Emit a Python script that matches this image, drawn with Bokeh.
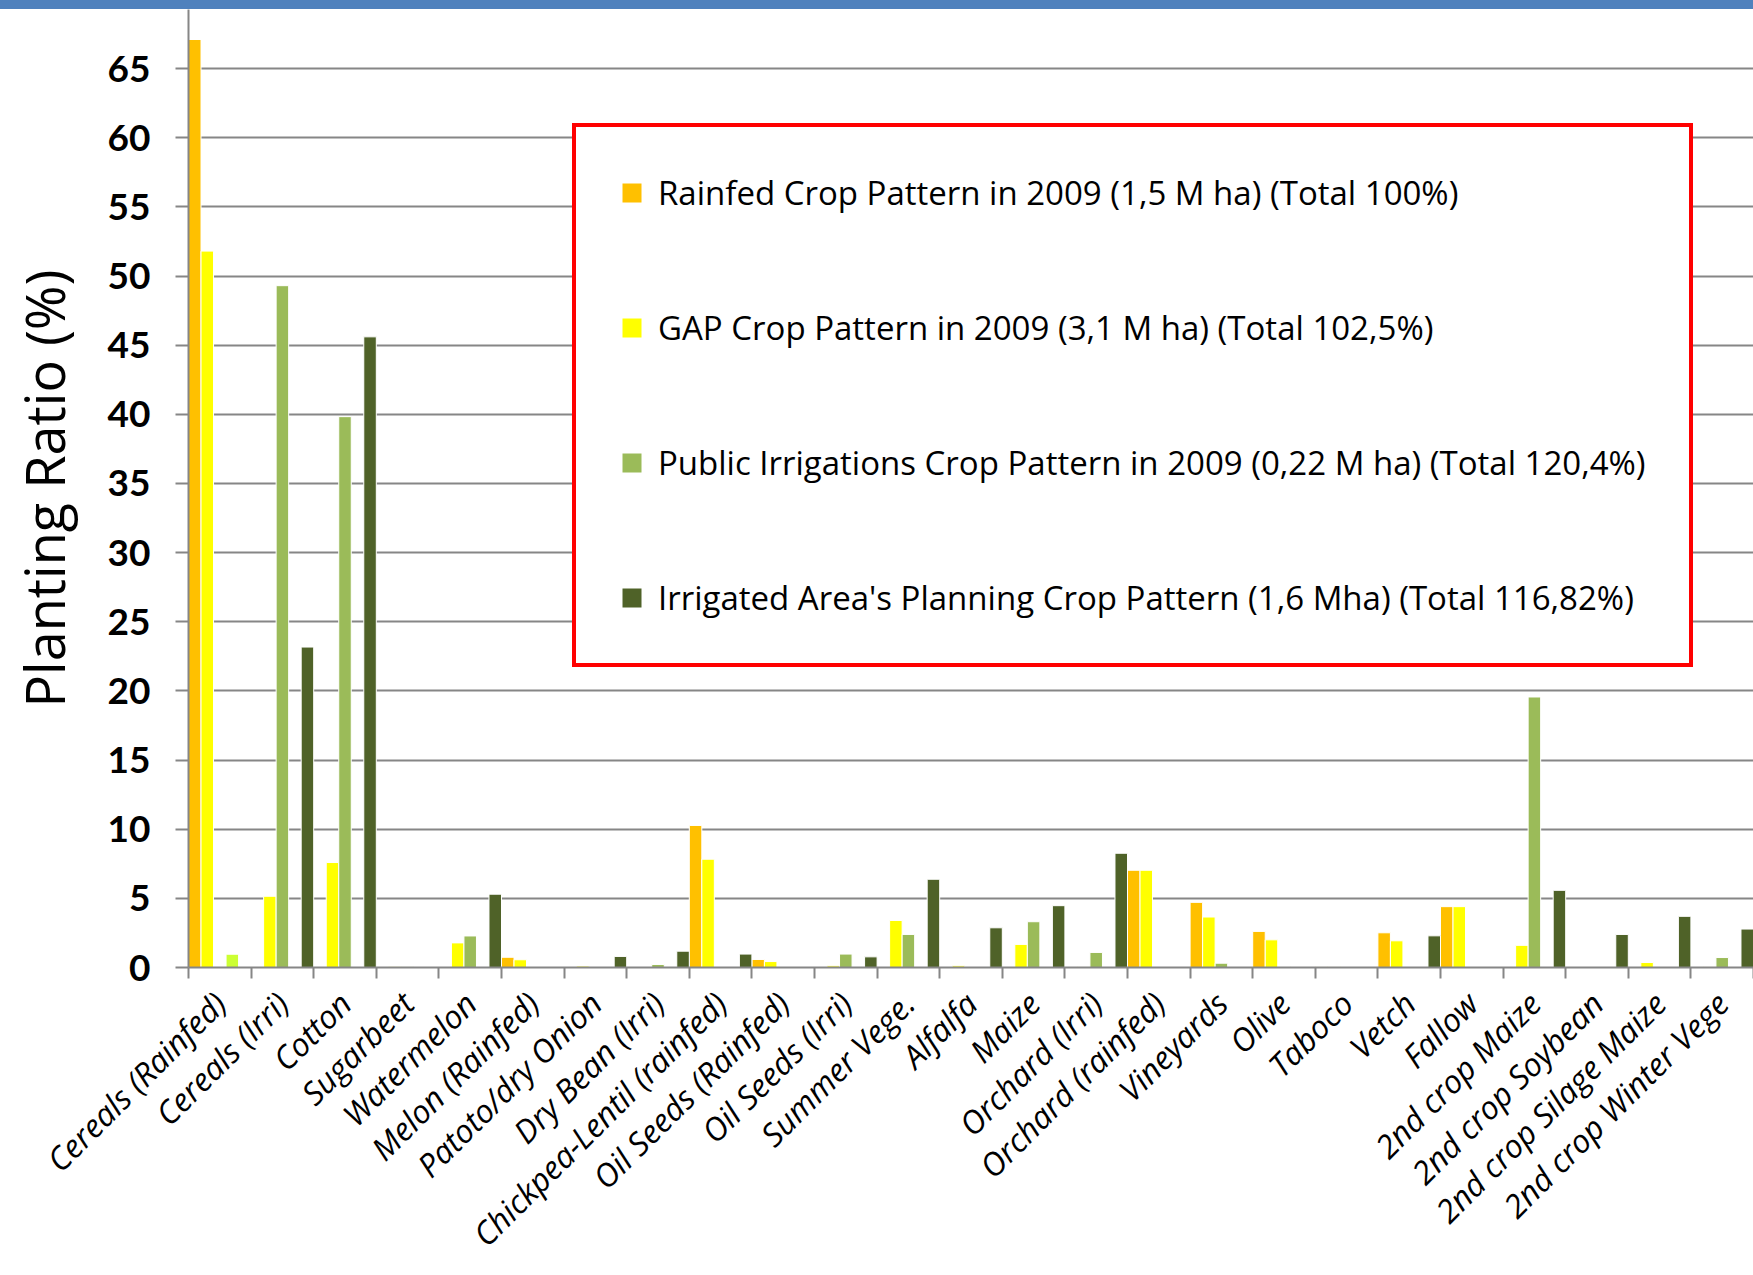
import math
from bokeh.plotting import figure
from bokeh.layouts import column
from bokeh.models import (FactorRange, Range1d, LinearAxis, CategoricalAxis, FixedTicker,
                          SingleIntervalTicker, Legend, LegendItem, ColumnDataSource, Div)
from bokeh.transform import dodge
from bokeh.embed import file_html
from bokeh.resources import INLINE

categories = ["Cereals (Rainfed)", "Cereals (Irri)", "Cotton", "Sugarbeet", "Watermelon",
              "Melon (Rainfed)", "Patoto/dry Onion", "Dry Bean (Irri)", "Chickpea-Lentil (rainfed)",
              "Oil Seeds (Rainfed)", "Oil Seeds (Irri)", "Summer Vege.", "Alfalfa", "Maize",
              "Orchard (Irri)", "Orchard (rainfed)", "Vineyards", "Olive", "Taboco", "Vetch",
              "Fallow", "2nd crop Maize", "2nd crop Soybean", "2nd crop Silage Maize",
              "2nd crop Winter Vege"]

rainfed = [67.1, 0, 0, 0, 0, 0.74, 0, 0, 10.27, 0.58, 0, 0, 0, 0, 0, 7.03, 4.71, 2.61,
           0.07, 2.51, 4.4, 0, 0, 0, 0]
gap = [51.8, 5.15, 7.59, 0.05, 1.78, 0.56, 0.1, 0, 7.83, 0.43, 0.12, 3.4, 0.12, 1.67, 0.07,
       7.03, 3.65, 2.0, 0.07, 1.93, 4.4, 1.6, 0, 0.36, 0.07]
public = [0, 49.3, 39.83, 0.08, 2.28, 0, 0, 0.22, 0, 0, 0.97, 2.39, 0, 3.31, 1.09, 0, 0.31,
          0.07, 0.03, 0, 0, 19.56, 0, 0, 0.72]
other = [0.96, 0, 0, 0, 0, 0, 0, 0, 0, 0, 0, 0, 0, 0, 0, 0, 0, 0, 0, 0, 0, 0, 0, 0, 0]
planning = [0, 23.17, 45.6, 0, 5.3, 0, 0.8, 1.18, 0.97, 0, 0.77, 6.38, 2.87, 4.47, 8.26, 0,
            0, 0, 0, 2.29, 0, 5.58, 2.39, 3.7, 2.78]

legend_labels = [
    "Rainfed Crop Pattern in 2009 (1,5 M ha) (Total 100%)",
    "GAP Crop Pattern in 2009 (3,1 M ha) (Total 102,5%)",
    "Public Irrigations Crop Pattern in 2009 (0,22 M ha) (Total 120,4%)",
    "Irrigated Area's Planning Crop Pattern (1,6 Mha) (Total 116,82%)",
]

y_label = "Planting Ratio (%)"

TOTAL_W = 1753
BAND_H = 9
FIG_H = 1275 - BAND_H
BOTTOM = 308
FRAME_H = FIG_H - BOTTOM
PX_PER_UNIT = 13.83
Y_TOP = FRAME_H / PX_PER_UNIT

source = ColumnDataSource(dict(cat=categories, rainfed=rainfed, gap=gap, public=public,
                               other=other, planning=planning))

p = figure(x_range=FactorRange(factors=categories), y_range=Range1d(0, Y_TOP),
           width=TOTAL_W, height=FIG_H, output_backend="svg", toolbar_location=None,
           x_axis_location=None, min_border_left=188, min_border_right=0,
           min_border_top=0, min_border_bottom=BOTTOM)
p.outline_line_color = None
p.background_fill_color = "white"
p.border_fill_color = "white"

series = [("rainfed", "#FFC000", -0.4), ("gap", "#FFFF00", -0.2), ("public", "#9BBB59", 0.0),
          ("other", "#CCFF33", 0.2), ("planning", "#4F6228", 0.4)]
renderers = {}
for key, color, off in series:
    r = p.vbar(x=dodge("cat", off, range=p.x_range), top=key, width=0.2, source=source,
               fill_color=color, line_color="white", line_width=1)
    renderers[key] = r

# y axis
GRAY = "#868686"
yax = p.yaxis[0]
yax.ticker = SingleIntervalTicker(interval=5, num_minor_ticks=0)
yax.axis_line_color = GRAY
yax.axis_line_width = 2
yax.major_tick_line_color = GRAY
yax.major_tick_line_width = 2
yax.major_tick_out = 13
yax.major_tick_in = 0
yax.minor_tick_line_color = None
yax.major_label_text_font = "Lato"
yax.major_label_text_font_style = "bold"
yax.major_label_text_font_size = "37px"
yax.major_label_text_color = "black"
yax.major_label_standoff = 25
yax.axis_label = y_label
yax.axis_label_text_font = "Open Sans"
yax.axis_label_text_font_style = "normal"
yax.axis_label_text_font_size = "54px"
yax.axis_label_text_color = "black"
yax.axis_label_standoff = 24

p.ygrid.ticker = SingleIntervalTicker(interval=5, num_minor_ticks=0)
p.ygrid.grid_line_color = GRAY
p.ygrid.grid_line_width = 2
p.xgrid.visible = False

# x axis: ticks at category boundaries (synthetic coordinates of the factor range)
bounds = list(range(len(categories) + 1))
tick_axis = LinearAxis(ticker=FixedTicker(ticks=bounds),
                       major_label_overrides={b: "" for b in bounds},
                       major_tick_out=11, major_tick_in=0,
                       minor_tick_line_color=None,
                       major_tick_line_color=GRAY, major_tick_line_width=2,
                       axis_line_color=GRAY, axis_line_width=2,
                       major_label_text_font_size="1px", major_label_standoff=0)
p.add_layout(tick_axis, "below")

label_axis = CategoricalAxis(major_tick_line_color=None, axis_line_color=None,
                             major_tick_out=0, major_tick_in=0,
                             major_label_orientation=math.pi / 4,
                             major_label_text_font="Open Sans",
                             major_label_text_font_style="italic",
                             major_label_text_font_size="32px",
                             major_label_text_color="black",
                             major_label_standoff=19)
p.add_layout(label_axis, "below")

# legend
items = [LegendItem(label=legend_labels[0], renderers=[renderers["rainfed"]]),
         LegendItem(label=legend_labels[1], renderers=[renderers["gap"]]),
         LegendItem(label=legend_labels[2], renderers=[renderers["public"]]),
         LegendItem(label=legend_labels[3], renderers=[renderers["planning"]])]
legend = Legend(items=items, location=(384, 300), margin=0, padding=43,
                spacing=90, glyph_width=25, glyph_height=25, label_height=45,
                label_standoff=14, label_text_font="Open Sans", label_text_font_size="33px",
                label_text_color="black", border_line_color="#FF0000",
                border_line_alpha=1.0, border_line_width=4,
                background_fill_color="white", background_fill_alpha=1.0)
p.add_layout(legend)

band = Div(text="", width=TOTAL_W, height=BAND_H, margin=0,
           styles={"background-color": "#4F81BD"})

layout = column(band, p, spacing=0, margin=0)

open("out.html", "w").write(file_html(layout, INLINE))
